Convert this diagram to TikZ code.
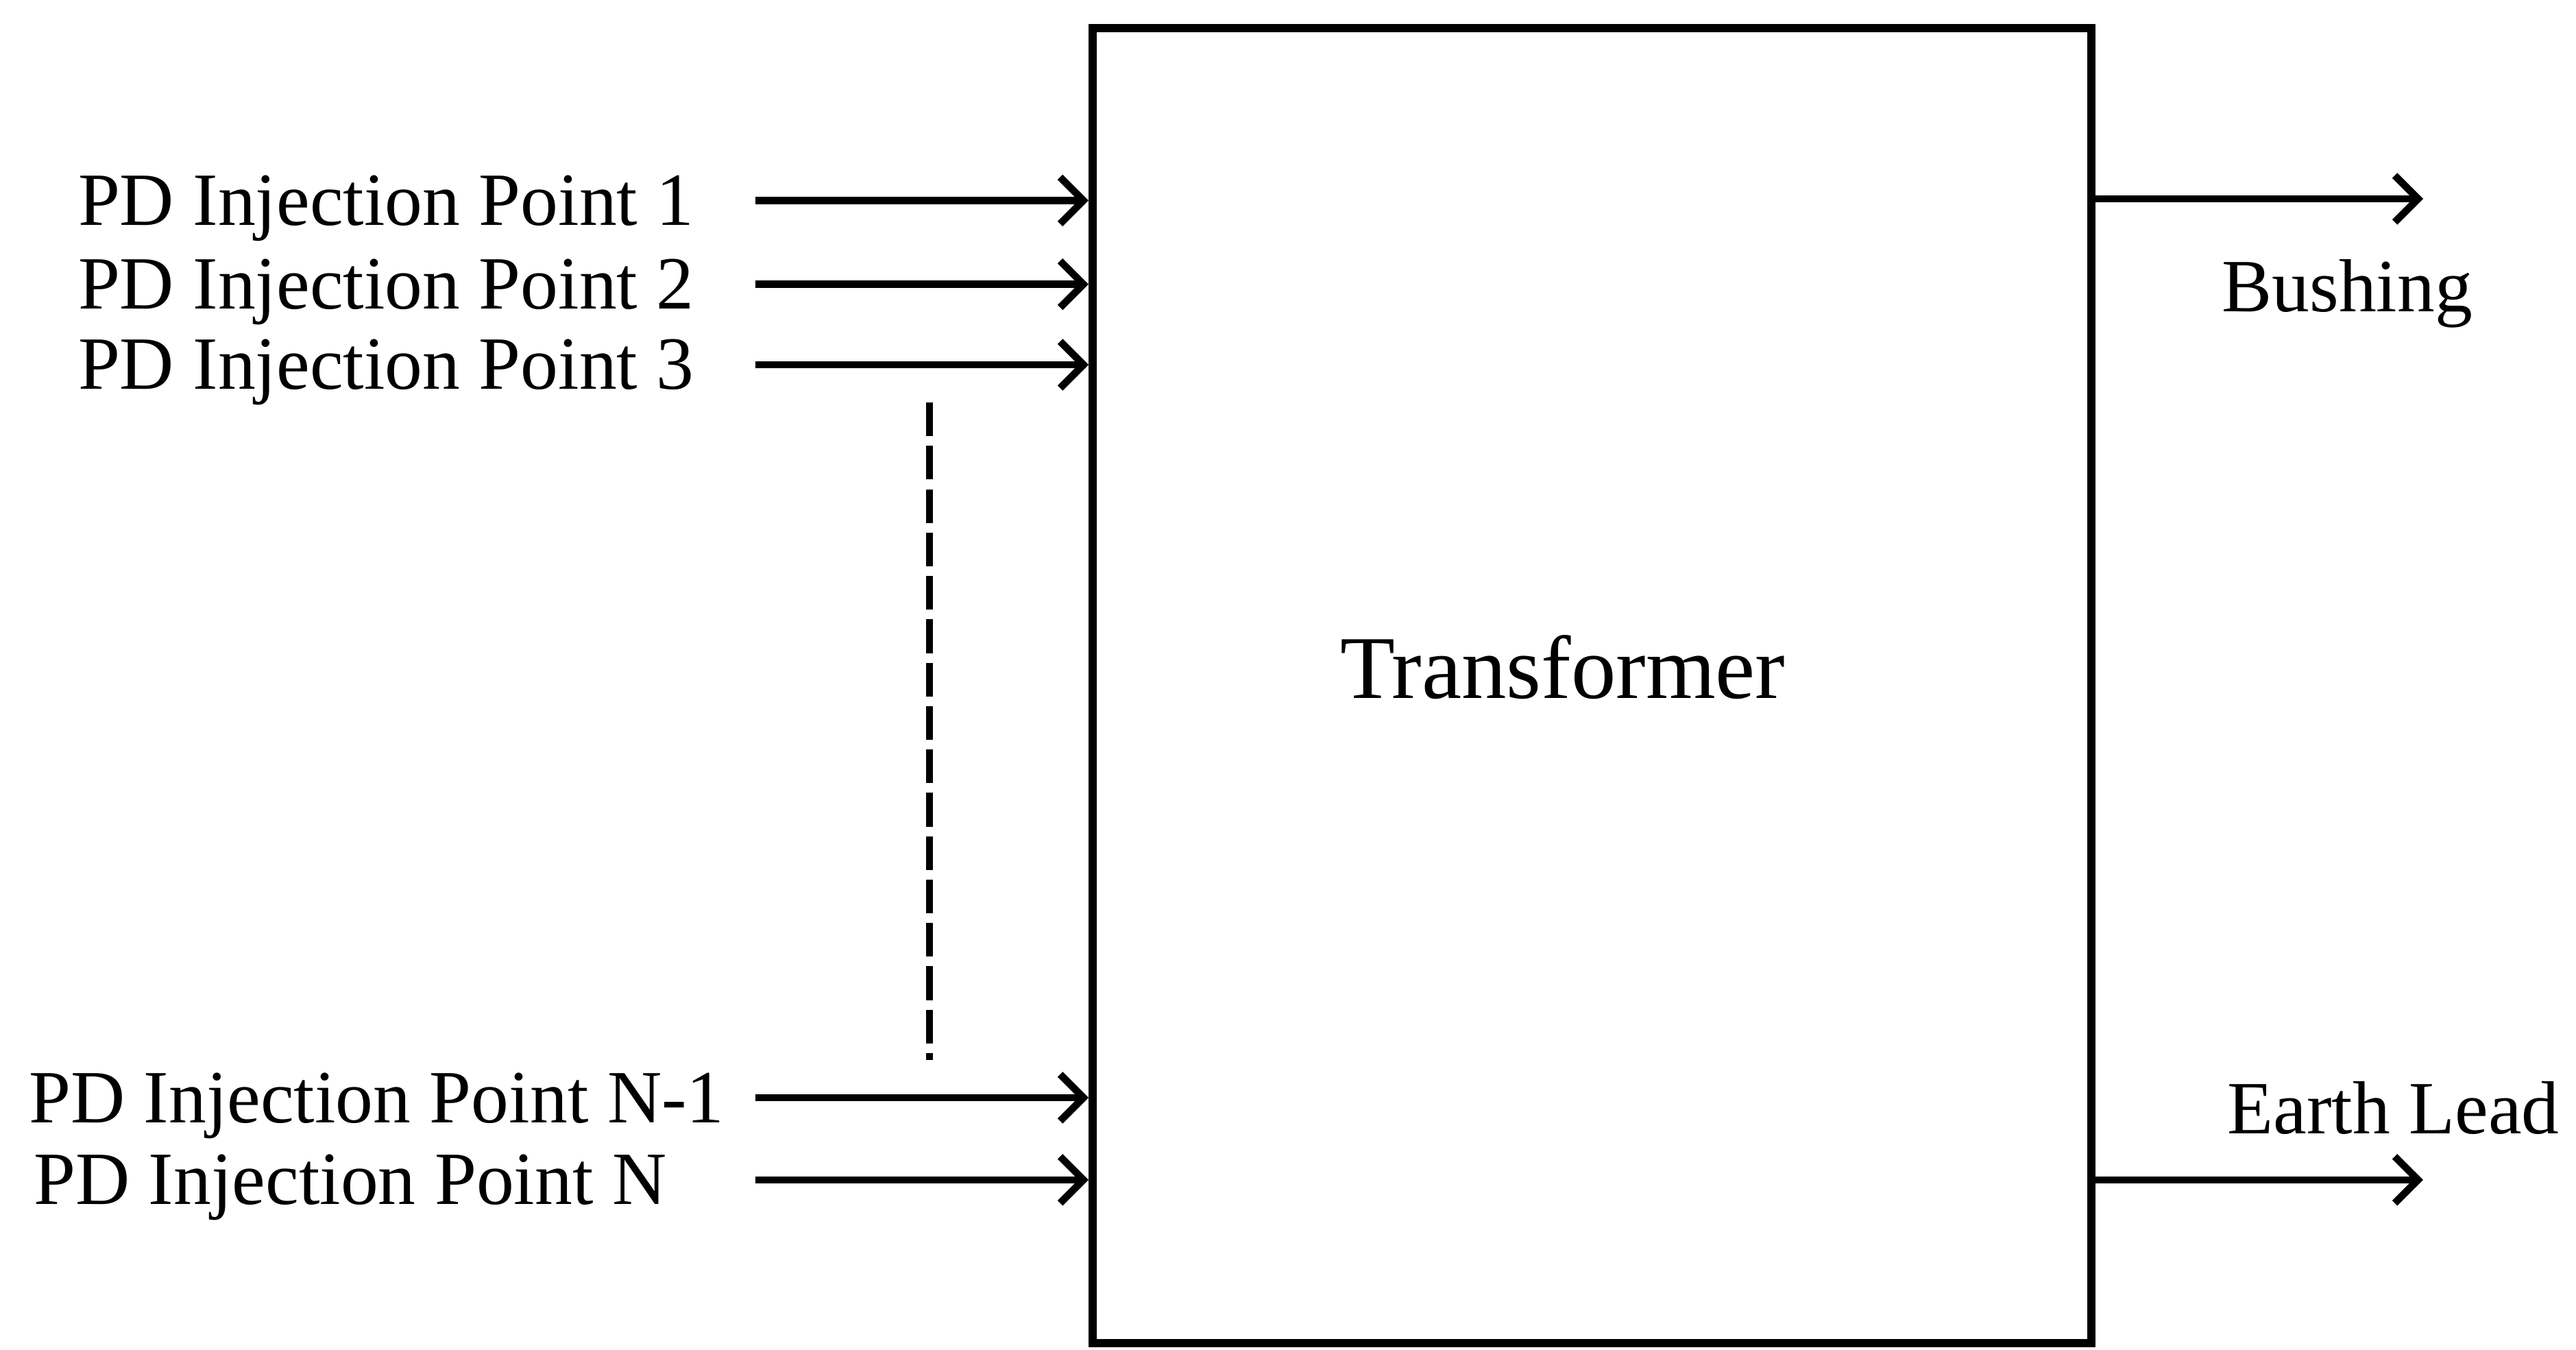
\documentclass[tikz,border=0pt]{standalone}
\usepackage{fontspec}
\setmainfont{Liberation Serif}
\usepackage{tikz}
\usetikzlibrary{arrows.meta,calc}

\tikzset{
  ucok/.style={-{Straight Barb[length=1.7mm,width=3.4mm]},line width=1.5pt},
  etiket/.style={anchor=base west,inner sep=0pt,font=\fontsize{15.6}{18}\selectfont},
}

\begin{document}
\begin{tikzpicture}[scale=1.0]
\useasboundingbox (0,0) rectangle (18.79,9.84);
% transformer kutusu
\node[draw,line width=1.7pt,inner sep=0pt,minimum width=7.285cm,minimum height=9.59cm] (tr) at (11.6125,4.84) {};
\node[anchor=base west,inner sep=0pt,font=\fontsize{18.6}{22}\selectfont] (trlab) at (9.77,4.745) {Transformer};
% giris noktalari
\foreach \i/\y/\lx/\txt in {1/8.378/0.563/1, 2/7.767/0.563/2, 3/7.180/0.563/3, 4/1.835/0.204/N-1, 5/1.236/0.24/N} {
  \node[etiket] (pd\i) at (\lx,\y-0.18) {PD Injection Point \txt};
  \coordinate (g\i) at (5.51,\y);
  \draw[ucok] (g\i) -- (g\i -| tr.west);
}
% arada kalanlar
\coordinate (nokA) at (6.78,6.905);
\coordinate (nokB) at (6.78,2.11);
\draw[line width=1.5pt,dash pattern=on 7pt off 2pt] (nokA) -- (nokB);
% cikislar
\coordinate (bs) at (17.675,8.39);
\coordinate (el) at (17.675,1.236);
\draw[ucok] (bs -| tr.east) -- (bs);
\draw[ucok] (el -| tr.east) -- (el);
\node[etiket] (bslab) at (16.2,7.565) {Bushing};
\node[etiket] (ellab) at (16.24,1.57) {Earth Lead};
\end{tikzpicture}
\end{document}
